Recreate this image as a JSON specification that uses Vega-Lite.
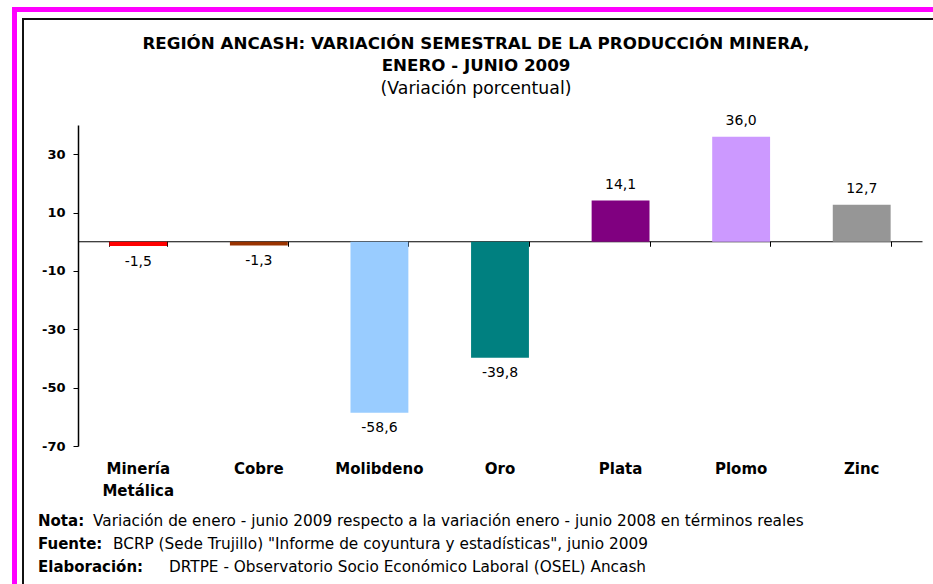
{
  "$schema": "https://vega.github.io/schema/vega-lite/v6.json",
  "padding": {"left": 12, "top": 7, "right": 0, "bottom": 0},
  "background": "white",
  "columns": 6,
  "spacing": 0,
  "bounds": "flush",
  "align": "each",
  "config": {
    "view": {"stroke": null},
    "font": "DejaVu Sans",
    "locale": {"number": {"decimal": ",", "thousands": ".", "grouping": [3], "currency": ["", ""], "minus": "-"}}
  },
  "datasets": {
    "produccion": [
      {"mineral": "Minería Metálica", "variacion": -1.5},
      {"mineral": "Cobre", "variacion": -1.3},
      {"mineral": "Molibdeno", "variacion": -58.6},
      {"mineral": "Oro", "variacion": -39.8},
      {"mineral": "Plata", "variacion": 14.1},
      {"mineral": "Plomo", "variacion": 36.0},
      {"mineral": "Zinc", "variacion": 12.7}
    ],
    "notas": [
      {"linea": 1, "prefijo": "Nota:", "texto": "Variación de enero - junio 2009 respecto a la variación enero - junio 2008 en términos reales"},
      {"linea": 2, "prefijo": "Fuente:", "texto": "BCRP (Sede Trujillo) \"Informe de coyuntura y estadísticas\", junio 2009"},
      {"linea": 3, "prefijo": "Elaboración:", "texto": "DRTPE - Observatorio Socio Económico Laboral (OSEL) Ancash"}
    ],
    "vacio": []
  },
  "concat": [
    {"width": 5, "height": 5, "data": {"name": "vacio"}, "mark": {"type": "point", "opacity": 0}, "view": {"fill": "#FF00FF", "stroke": null}},
    {"width": 5, "height": 5, "data": {"name": "vacio"}, "mark": {"type": "point", "opacity": 0}, "view": {"fill": "#FF00FF", "stroke": null}},
    {"width": 2, "height": 5, "data": {"name": "vacio"}, "mark": {"type": "point", "opacity": 0}, "view": {"fill": "#FF00FF", "stroke": null}},
    {"width": 54, "height": 5, "data": {"name": "vacio"}, "mark": {"type": "point", "opacity": 0}, "view": {"fill": "#FF00FF", "stroke": null}},
    {"width": 844, "height": 5, "data": {"name": "vacio"}, "mark": {"type": "point", "opacity": 0}, "view": {"fill": "#FF00FF", "stroke": null}},
    {"width": 11, "height": 5, "data": {"name": "vacio"}, "mark": {"type": "point", "opacity": 0}, "view": {"fill": "#FF00FF", "stroke": null}},

    {"width": 5, "height": 6, "data": {"name": "vacio"}, "mark": {"type": "point", "opacity": 0}, "view": {"fill": "#FF00FF", "stroke": null}},
    {"width": 1, "height": 1, "data": {"name": "vacio"}, "mark": {"type": "point", "opacity": 0}},
    {"width": 1, "height": 1, "data": {"name": "vacio"}, "mark": {"type": "point", "opacity": 0}},
    {"width": 1, "height": 1, "data": {"name": "vacio"}, "mark": {"type": "point", "opacity": 0}},
    {"width": 1, "height": 1, "data": {"name": "vacio"}, "mark": {"type": "point", "opacity": 0}},
    {"width": 1, "height": 1, "data": {"name": "vacio"}, "mark": {"type": "point", "opacity": 0}},

    {"width": 5, "height": 2, "data": {"name": "vacio"}, "mark": {"type": "point", "opacity": 0}, "view": {"fill": "#FF00FF", "stroke": null}},
    {"width": 1, "height": 1, "data": {"name": "vacio"}, "mark": {"type": "point", "opacity": 0}},
    {"width": 2, "height": 2, "data": {"name": "vacio"}, "mark": {"type": "point", "opacity": 0}, "view": {"fill": "#111111", "stroke": null}},
    {"width": 54, "height": 2, "data": {"name": "vacio"}, "mark": {"type": "point", "opacity": 0}, "view": {"fill": "#111111", "stroke": null}},
    {"width": 844, "height": 2, "data": {"name": "vacio"}, "mark": {"type": "point", "opacity": 0}, "view": {"fill": "#111111", "stroke": null}},
    {"width": 11, "height": 2, "data": {"name": "vacio"}, "mark": {"type": "point", "opacity": 0}, "view": {"fill": "#111111", "stroke": null}},

    {"width": 5, "height": 105, "data": {"name": "vacio"}, "mark": {"type": "point", "opacity": 0}, "view": {"fill": "#FF00FF", "stroke": null}},
    {"width": 1, "height": 1, "data": {"name": "vacio"}, "mark": {"type": "point", "opacity": 0}},
    {"width": 2, "height": 105, "data": {"name": "vacio"}, "mark": {"type": "point", "opacity": 0}, "view": {"fill": "#111111", "stroke": null}},
    {"width": 1, "height": 1, "data": {"name": "vacio"}, "mark": {"type": "point", "opacity": 0}},
    {"width": 844, "height": 105, "data": {"name": "vacio"}, "mark": {"type": "point", "opacity": 0}},
    {"width": 1, "height": 1, "data": {"name": "vacio"}, "mark": {"type": "point", "opacity": 0}},

    {"width": 5, "height": 321, "data": {"name": "vacio"}, "mark": {"type": "point", "opacity": 0}, "view": {"fill": "#FF00FF", "stroke": null}},
    {"width": 1, "height": 1, "data": {"name": "vacio"}, "mark": {"type": "point", "opacity": 0}},
    {"width": 2, "height": 321, "data": {"name": "vacio"}, "mark": {"type": "point", "opacity": 0}, "view": {"fill": "#111111", "stroke": null}},
    {"width": 1, "height": 1, "data": {"name": "vacio"}, "mark": {"type": "point", "opacity": 0}},
    {
      "width": 844,
      "height": 321,
      "title": {
        "text": ["REGIÓN ANCASH: VARIACIÓN SEMESTRAL DE LA PRODUCCIÓN MINERA,", "ENERO - JUNIO 2009"],
        "subtitle": "(Variación porcentual)",
        "anchor": "middle",
        "font": "DejaVu Sans",
        "fontSize": 16.7,
        "fontWeight": "bold",
        "color": "black",
        "lineHeight": 22,
        "subtitleFont": "DejaVu Sans",
        "subtitleFontSize": 17.3,
        "subtitleColor": "black",
        "subtitlePadding": 5,
        "offset": 17,
        "dx": -24
      },
      "data": {"name": "produccion"},
      "encoding": {
        "y": {
          "field": "variacion",
          "type": "quantitative",
          "scale": {"domain": [-70, 40], "nice": false, "zero": false},
          "axis": {
            "values": [-70, -50, -30, -10, 10, 30],
            "title": null,
            "grid": false,
            "labelFont": "DejaVu Sans",
            "labelFontSize": 13,
            "labelFontWeight": "bold",
            "labelColor": "black",
            "labelPadding": 8,
            "labelFlush": false,
            "labelOverlap": false,
            "tickSize": 5,
            "tickColor": "black",
            "domainColor": "black",
            "domainWidth": 1.5
          }
        }
      },
      "layer": [
        {
          "mark": {"type": "bar"},
          "encoding": {
            "x": {
              "field": "mineral",
              "type": "nominal",
              "sort": null,
              "scale": {"paddingInner": 0.52, "paddingOuter": 0.26},
              "axis": {
                "orient": "bottom",
                "offset": -204.75,
                "title": null,
                "labels": false,
                "tickBand": "extent",
                "tickSize": 5,
                "tickColor": "black",
                "domainColor": "black",
                "domainWidth": 1.2
              }
            },
            "color": {
              "field": "mineral",
              "type": "nominal",
              "scale": {
                "domain": ["Minería Metálica", "Cobre", "Molibdeno", "Oro", "Plata", "Plomo", "Zinc"],
                "range": ["#FF0000", "#993300", "#99CCFF", "#008080", "#800080", "#CC99FF", "#969696"]
              },
              "legend": null
            }
          }
        },
        {
          "mark": {
            "type": "text",
            "font": "DejaVu Sans",
            "fontSize": 14,
            "color": "black",
            "baseline": "middle",
            "dy": {"expr": "datum.variacion < 0 ? 15.5 : -15.5"}
          },
          "encoding": {
            "x": {
              "field": "mineral",
              "type": "nominal",
              "sort": null,
              "axis": {
                "orient": "bottom",
                "title": null,
                "domain": false,
                "ticks": false,
                "labelAngle": 0,
                "labelPadding": 15,
                "labelBaseline": "top",
                "labelFont": "DejaVu Sans",
                "labelFontSize": 15,
                "labelFontWeight": "bold",
                "labelColor": "black",
                "labelLineHeight": 22,
                "labelOverlap": false,
                "labelExpr": "datum.value == 'Minería Metálica' ? ['Minería', 'Metálica'] : datum.value"
              }
            },
            "text": {"field": "variacion", "type": "quantitative", "format": ".1f"}
          }
        }
      ],
      "resolve": {"axis": {"x": "independent"}}
    },
    {"width": 1, "height": 1, "data": {"name": "vacio"}, "mark": {"type": "point", "opacity": 0}},

    {"width": 5, "height": 138, "data": {"name": "vacio"}, "mark": {"type": "point", "opacity": 0}, "view": {"fill": "#FF00FF", "stroke": null}},
    {"width": 1, "height": 1, "data": {"name": "vacio"}, "mark": {"type": "point", "opacity": 0}},
    {"width": 2, "height": 138, "data": {"name": "vacio"}, "mark": {"type": "point", "opacity": 0}, "view": {"fill": "#111111", "stroke": null}},
    {"width": 1, "height": 1, "data": {"name": "vacio"}, "mark": {"type": "point", "opacity": 0}},
    {
      "width": 844,
      "height": 138,
      "data": {"name": "notas"},
      "encoding": {
        "y": {"field": "linea", "type": "quantitative", "scale": {"domain": [-2.26, 3.74], "reverse": true, "nice": false, "zero": false}, "axis": null}
      },
      "layer": [
        {
          "mark": {"type": "text", "align": "left", "baseline": "middle", "font": "DejaVu Sans", "fontSize": 15, "fontWeight": "bold", "color": "black", "dx": -462},
          "encoding": {"text": {"field": "prefijo"}}
        },
        {
          "mark": {"type": "text", "align": "left", "baseline": "middle", "font": "DejaVu Sans", "fontSize": 15.3, "color": "black", "dx": {"expr": "datum.linea == 1 ? -407 : datum.linea == 2 ? -387 : -331"}},
          "encoding": {"text": {"field": "texto"}}
        }
      ]
    },
    {"width": 1, "height": 1, "data": {"name": "vacio"}, "mark": {"type": "point", "opacity": 0}}
  ]
}
